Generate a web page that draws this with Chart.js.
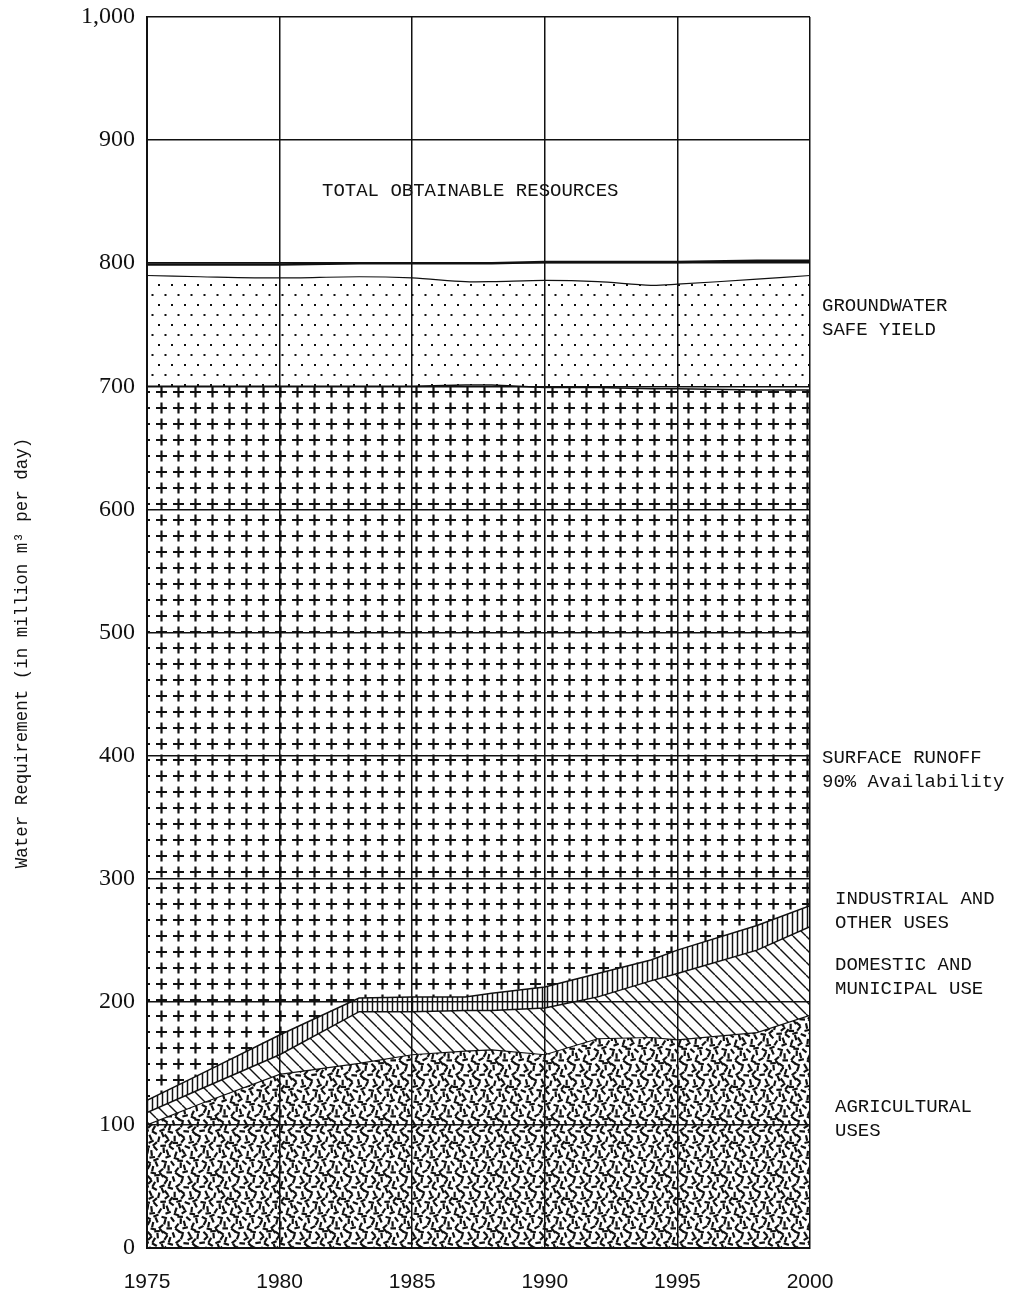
<!DOCTYPE html>
<html lang="en">
<head>
<meta charset="UTF-8">
<title>Water Requirement and Obtainable Resources</title>
<script src="https://cdn.jsdelivr.net/npm/chart.js"></script>
<style>
    html, body {
        margin: 0;
        padding: 0;
        background: #fff;
    }
    #wrap {
        width: 1013px;
        height: 1295px;
    }
</style>
</head>
<body>
<div id="wrap"><canvas id="waterChart" width="1013" height="1295"></canvas></div>
<script>
// values (million m3 per day), upper edge of each band
const years = [1975, 1977, 1980, 1983, 1985, 1987, 1988, 1990, 1992, 1994, 1995, 1998, 2000];
const agricultural = [100, 117, 141, 150, 157, 160, 161, 157, 170, 171, 169, 175, 189];
const domestic = [110, 129, 157, 192, 192, 193, 193, 195, 204, 217, 223, 242, 261];
const industrial = [120, 141, 173, 203, 204, 204, 207, 212, 223, 234, 242, 262, 278];
const surfaceRunoff = [700, 700, 700, 700, 700, 701, 701, 699, 699, 698, 698, 697, 697];
const groundwater = [790, 789, 788, 789, 788, 785, 785, 786, 785, 782, 783, 787, 790];
const totalResources = [799, 799, 799, 800, 800, 800, 800, 801, 801, 801, 801, 802, 802];

const xTicks = [1975, 1980, 1985, 1990, 1995, 2000];
const yTicks = [0, 100, 200, 300, 400, 500, 600, 700, 800, 900, 1000];

const INK = '#111';
const canvas = document.getElementById('waterChart');
const ctx = canvas.getContext('2d');

// small helper to build a repeating fill pattern
function makePattern(w, h, draw) {
    const tile = document.createElement('canvas');
    tile.width = w;
    tile.height = h;
    const g = tile.getContext('2d');
    g.strokeStyle = INK;
    g.fillStyle = INK;
    draw(g, w, h);
    return ctx.createPattern(tile, 'repeat');
}

// scattered short dashes (agricultural)
const dashFill = makePattern(56, 56, (g, w, h) => {
    g.lineWidth = 2.2;
    for (let i = 0; i < 88; i++) {
        const px = ((i * 0.7548776662 + 0.13) % 1) * w;
        const py = ((i * 0.5698402910 + 0.41) % 1) * h;
        const a = ((i * 0.6180339887 * 5.3) % 1) * Math.PI;
        const dx = Math.cos(a) * 2.8, dy = Math.sin(a) * 2.8;
        for (const ox of [-w, 0, w]) {
            for (const oy of [-h, 0, h]) {
                g.beginPath();
                g.moveTo(px + ox - dx, py + oy - dy);
                g.lineTo(px + ox + dx, py + oy + dy);
                g.stroke();
            }
        }
    }
});

// backslash hatching (domestic)
const diagFill = makePattern(13, 13, (g, w, h) => {
    g.lineWidth = 1.4;
    for (let k = -1; k <= 1; k++) {
        g.beginPath();
        g.moveTo(k * w, 0);
        g.lineTo(k * w + w, h);
        g.stroke();
    }
});

// vertical hatching (industrial)
const vertFill = makePattern(5, 4, (g, w, h) => {
    g.lineWidth = 1.5;
    g.beginPath();
    g.moveTo(2.5, 0);
    g.lineTo(2.5, h);
    g.stroke();
});

// plus signs (surface runoff)
const plusFill = makePattern(17, 16, (g) => {
    g.lineWidth = 2.2;
    g.beginPath();
    g.moveTo(3, 8);
    g.lineTo(14, 8);
    g.moveTo(8.5, 2.5);
    g.lineTo(8.5, 13.5);
    g.stroke();
});

// sparse dots (groundwater)
const dotFill = makePattern(26, 20, (g) => {
    [[3, 5], [16, 5], [9.5, 15], [22.5, 15]].forEach(([x, y]) => {
        g.fillRect(x - 1, y - 1, 2, 2);
    });
});

function pts(values) {
    return years.map((yr, i) => ({ x: yr, y: values[i] }));
}

const textLabels = [
    { lines: ['TOTAL OBTAINABLE RESOURCES'], x: 322, y: 196 },
    { lines: ['GROUNDWATER', 'SAFE YIELD'], x: 822, y: 311 },
    { lines: ['SURFACE RUNOFF', '90% Availability'], x: 822, y: 763 },
    { lines: ['INDUSTRIAL AND', 'OTHER USES'], x: 835, y: 904 },
    { lines: ['DOMESTIC AND', 'MUNICIPAL USE'], x: 835, y: 970 },
    { lines: ['AGRICULTURAL', 'USES'], x: 835, y: 1112 }
];

const textPlugin = {
    id: 'textPlugin',
    afterDraw(chart) {
        const c = chart.ctx;
        c.save();
        c.fillStyle = INK;
        c.font = '19px "Liberation Mono"';
        c.textAlign = 'left';
        c.textBaseline = 'alphabetic';
        textLabels.forEach(lbl => {
            lbl.lines.forEach((t, i) => c.fillText(t, lbl.x, lbl.y + i * 24));
        });
        // y axis title
        c.translate(22, 653);
        c.rotate(-Math.PI / 2);
        c.textAlign = 'center';
        c.textBaseline = 'middle';
        c.font = '17.5px "Liberation Mono"';
        c.fillText('Water Requirement (in million m\u00B3 per day)', 0, 0);
        c.restore();
    }
};

new Chart(ctx, {
    type: 'line',
    data: {
        datasets: [
            { label: 'Agricultural uses', data: pts(agricultural), fill: 'origin', backgroundColor: dashFill, borderWidth: 1.2 },
            { label: 'Domestic and municipal use', data: pts(domestic), fill: '-1', backgroundColor: diagFill, borderWidth: 1.5 },
            { label: 'Industrial and other uses', data: pts(industrial), fill: '-1', backgroundColor: vertFill, borderWidth: 1.5 },
            { label: 'Surface runoff 90% availability', data: pts(surfaceRunoff), fill: '-1', backgroundColor: plusFill, borderWidth: 1.5 },
            { label: 'Groundwater safe yield', data: pts(groundwater), fill: '-1', backgroundColor: dotFill, borderWidth: 1.2, tension: 0.3 },
            { label: 'Total obtainable resources', data: pts(totalResources), fill: false, borderWidth: 2.5 }
        ]
    },
    options: {
        responsive: false,
        animation: false,
        layout: { padding: { top: 17, right: 203, left: 0, bottom: 0 } },
        elements: {
            point: { radius: 0 },
            line: { borderColor: INK, tension: 0 }
        },
        plugins: {
            legend: { display: false },
            tooltip: { enabled: false }
        },
        scales: {
            x: {
                type: 'linear',
                min: 1975,
                max: 2000,
                afterBuildTicks: s => { s.ticks = xTicks.map(v => ({ value: v })); },
                afterFit: s => { s.height = 47; s.paddingLeft = 0; s.paddingRight = 0; },
                grid: { color: INK, lineWidth: 1.5, drawTicks: false, z: 1 },
                border: { color: INK, width: 2, z: 2 },
                ticks: {
                    padding: 22,
                    color: INK,
                    maxRotation: 0,
                    autoSkip: false,
                    font: { family: 'Liberation Sans', size: 21 },
                    callback: v => String(v)
                }
            },
            y: {
                type: 'linear',
                min: 0,
                max: 1000,
                afterBuildTicks: s => { s.ticks = yTicks.map(v => ({ value: v })); },
                afterFit: s => { s.width = 147; s.paddingTop = 0; s.paddingBottom = 0; },
                grid: { color: INK, lineWidth: 1.5, drawTicks: false, z: 1 },
                border: { color: INK, width: 2, z: 2 },
                ticks: {
                    padding: 12,
                    color: INK,
                    font: { family: 'Liberation Serif', size: 24 },
                    callback: v => v.toLocaleString('en-US')
                }
            }
        }
    },
    plugins: [textPlugin]
});
</script>
</body>
</html>
